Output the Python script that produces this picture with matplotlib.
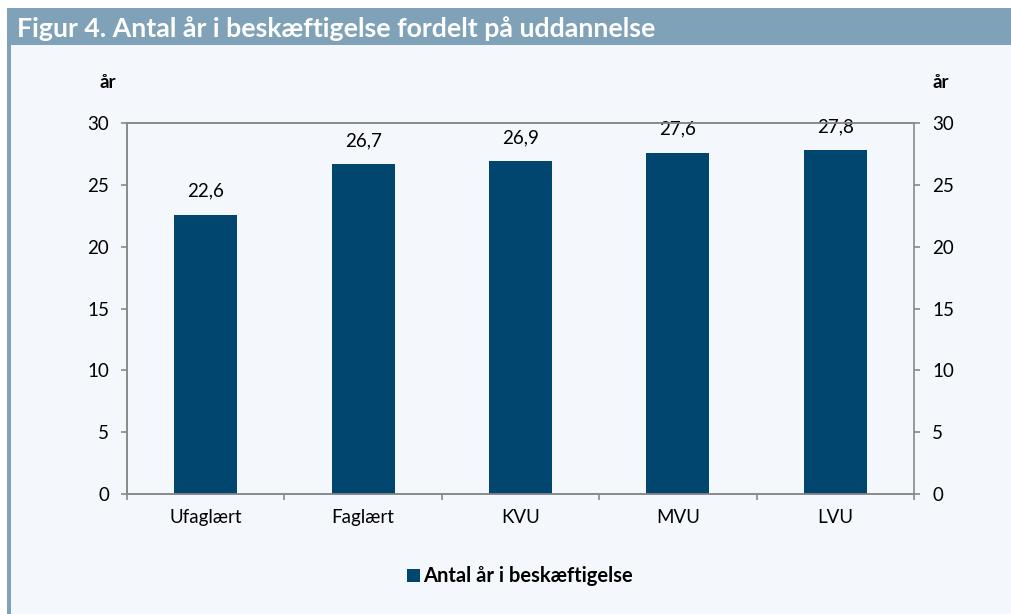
import matplotlib
matplotlib.use("Agg")
import matplotlib.pyplot as plt
from matplotlib.patches import Rectangle

# ---- data ----
categories = ["Ufaglært", "Faglært", "KVU", "MVU", "LVU"]
values = [22.6, 26.7, 26.9, 27.6, 27.8]
value_labels = ["22,6", "26,7", "26,9", "27,6", "27,8"]
yticks = [0, 5, 10, 15, 20, 25, 30]
series_name = "Antal år i beskæftigelse"
title = "Figur 4. Antal år i beskæftigelse fordelt på uddannelse"

plt.rcParams["font.family"] = ["Lato", "DejaVu Sans"]

W, H = 1012, 614
BG = "#F4F8FC"
BAR = "#00466E"
FRAME = "#7FA2B8"
AXC = "#898989"
FS = 13.5

fig = plt.figure(figsize=(W / 100, H / 100), dpi=100)
fig.patch.set_facecolor("white")

# panel background, title bar, left strip
fig.patches.append(Rectangle((7 / W, 0), 1 - 7 / W, 1 - 45 / H, transform=fig.transFigure,
                             facecolor=BG, edgecolor="none", zorder=-2))
fig.patches.append(Rectangle((7 / W, 1 - 45 / H), 1 - 7 / W, 37 / H, transform=fig.transFigure,
                             facecolor=FRAME, edgecolor="none", zorder=-1))
fig.patches.append(Rectangle((7 / W, 0), 4 / W, 1 - 45 / H, transform=fig.transFigure,
                             facecolor=FRAME, edgecolor="none", zorder=-1))
fig.text(17 / W, 1 - 29 / H, title, color="white", fontsize=19.3, fontweight="bold",
         va="center", ha="left")

# axes
left, right, top, bottom = 127, 914, 123, 494
ax = fig.add_axes([left / W, 1 - bottom / H, (right - left) / W, (bottom - top) / H])
ax.set_facecolor("none")
x = range(len(categories))
ax.bar(x, values, width=0.4, color=BAR, zorder=3)
for xi, v, lab in zip(x, values, value_labels):
    ax.text(xi, v + 1.2, lab, ha="center", va="bottom", fontsize=FS, color="black")

ax.set_xlim(-0.5, len(categories) - 0.5)
ax.set_ylim(0, 30)
ax.set_yticks(yticks)
ax.set_xticks(list(x))
ax.set_xticklabels(categories, fontsize=FS)
ax.set_xticks([i - 0.5 for i in range(len(categories) + 1)], minor=True)
ax.tick_params(axis="x", which="major", length=0, pad=11)
ax.tick_params(axis="x", which="minor", length=4, color=AXC, width=1.2)
ax.tick_params(axis="y", length=4, color=AXC, width=1.2, labelsize=FS, pad=9)
for s in ax.spines.values():
    s.set_color(AXC)
    s.set_linewidth(1.2)
ax.spines["right"].set_visible(False)

ax2 = ax.twinx()
ax2.set_ylim(0, 30)
ax2.set_yticks(yticks)
ax2.tick_params(axis="y", length=4, color=AXC, width=1.2, labelsize=FS, pad=9)
for s in ax2.spines.values():
    s.set_color(AXC)
    s.set_linewidth(1.2)

fig.text(108 / W, 1 - 82 / H, "år", fontsize=13.5, fontweight="bold", ha="center", va="center")
fig.text(941 / W, 1 - 82 / H, "år", fontsize=13.5, fontweight="bold", ha="center", va="center")

# legend
fig.patches.append(Rectangle((407 / W, 1 - 582 / H), 13 / W, 13 / H, transform=fig.transFigure,
                             facecolor=BAR, edgecolor="none"))
fig.text(423 / W, 1 - 576 / H, series_name, fontsize=14.5, fontweight="bold",
         ha="left", va="center")

fig.savefig("out.png", dpi=100, facecolor=fig.get_facecolor())
